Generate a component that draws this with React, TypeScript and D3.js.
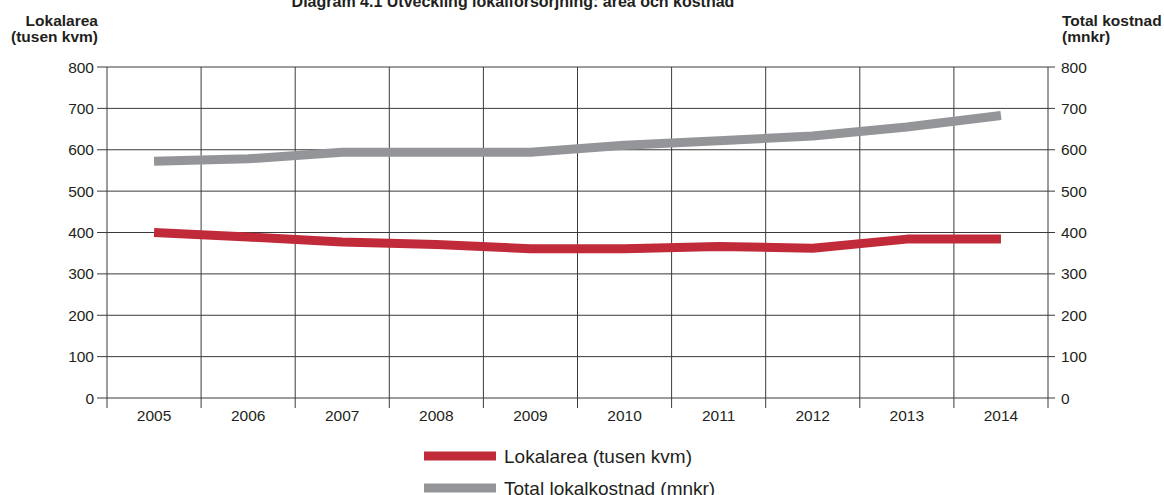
import React from "react";
import * as d3 from "d3";

const years = ["2005", "2006", "2007", "2008", "2009", "2010", "2011", "2012", "2013", "2014"];
const lokalarea = [400, 389, 377, 371, 361, 361, 366, 362, 384, 384];
const kostnad = [572, 578, 594, 594, 594, 611, 622, 633, 655, 683];
const yTicks = [0, 100, 200, 300, 400, 500, 600, 700, 800];

const W = 1164;
const H = 495;
const L = 107, R = 1048, T = 67, B = 398;
const RED = "#c12a39";
const GRAY = "#939598";
const INK = "#231f20";
const FONT = "'Liberation Sans', Arial, sans-serif";

export default function App() {
  const x = d3.scaleBand<string>().domain(years).range([L, R]);
  const y = d3.scaleLinear().domain([0, 800]).range([B, T]);
  const line = d3
    .line<number>()
    .x((_, i) => (x(years[i]) as number) + x.bandwidth() / 2)
    .y((d) => y(d));
  const bounds = years.map((yr) => x(yr) as number).concat([R]);

  return (
    <svg width={W} height={H} style={{ position: "absolute", left: 0, top: 0, display: "block" }} fontFamily={FONT}>
      <rect x={0} y={0} width={W} height={H} fill="#fff" />
      <text x={513} y={6.5} textAnchor="middle" fontSize={16} fontWeight="bold" fill={INK}>
        Diagram 4.1 Utveckling lokalförsörjning: area och kostnad
      </text>
      <text x={98} y={26} textAnchor="end" fontSize={15.5} fontWeight="bold" fill={INK}>Lokalarea</text>
      <text x={98} y={42} textAnchor="end" fontSize={15.5} fontWeight="bold" fill={INK}>(tusen kvm)</text>
      <text x={1062} y={26} fontSize={15.5} fontWeight="bold" fill={INK}>Total kostnad</text>
      <text x={1062} y={42} fontSize={15.5} fontWeight="bold" fill={INK}>(mnkr)</text>

      {yTicks.map((t) => (
        <g key={t}>
          <line x1={97} x2={1055} y1={y(t)} y2={y(t)} stroke="#3a3a3a" strokeWidth={1} />
          <text x={94} y={y(t) + 5.5} textAnchor="end" fontSize={15.5} fill={INK}>{t}</text>
          <text x={1061} y={y(t) + 5.5} fontSize={15.5} fill={INK}>{t}</text>
        </g>
      ))}
      {bounds.map((bx, i) => (
        <line key={i} x1={bx} x2={bx} y1={T} y2={B + 10} stroke="#3a3a3a" strokeWidth={1} />
      ))}
      {years.map((yr) => (
        <text key={yr} x={(x(yr) as number) + x.bandwidth() / 2} y={421} textAnchor="middle" fontSize={15.5} fill={INK}>
          {yr}
        </text>
      ))}

      <path d={line(kostnad) || ""} fill="none" stroke={GRAY} strokeWidth={9} strokeLinejoin="round" />
      <path d={line(lokalarea) || ""} fill="none" stroke={RED} strokeWidth={9} strokeLinejoin="round" />

      <line x1={424} x2={496} y1={456} y2={456} stroke={RED} strokeWidth={9} />
      <text x={504} y={463} fontSize={19} fill={INK}>Lokalarea (tusen kvm)</text>
      <line x1={424} x2={496} y1={488} y2={488} stroke={GRAY} strokeWidth={9} />
      <text x={504} y={495} fontSize={19} fill={INK}>Total lokalkostnad (mnkr)</text>
    </svg>
  );
}
